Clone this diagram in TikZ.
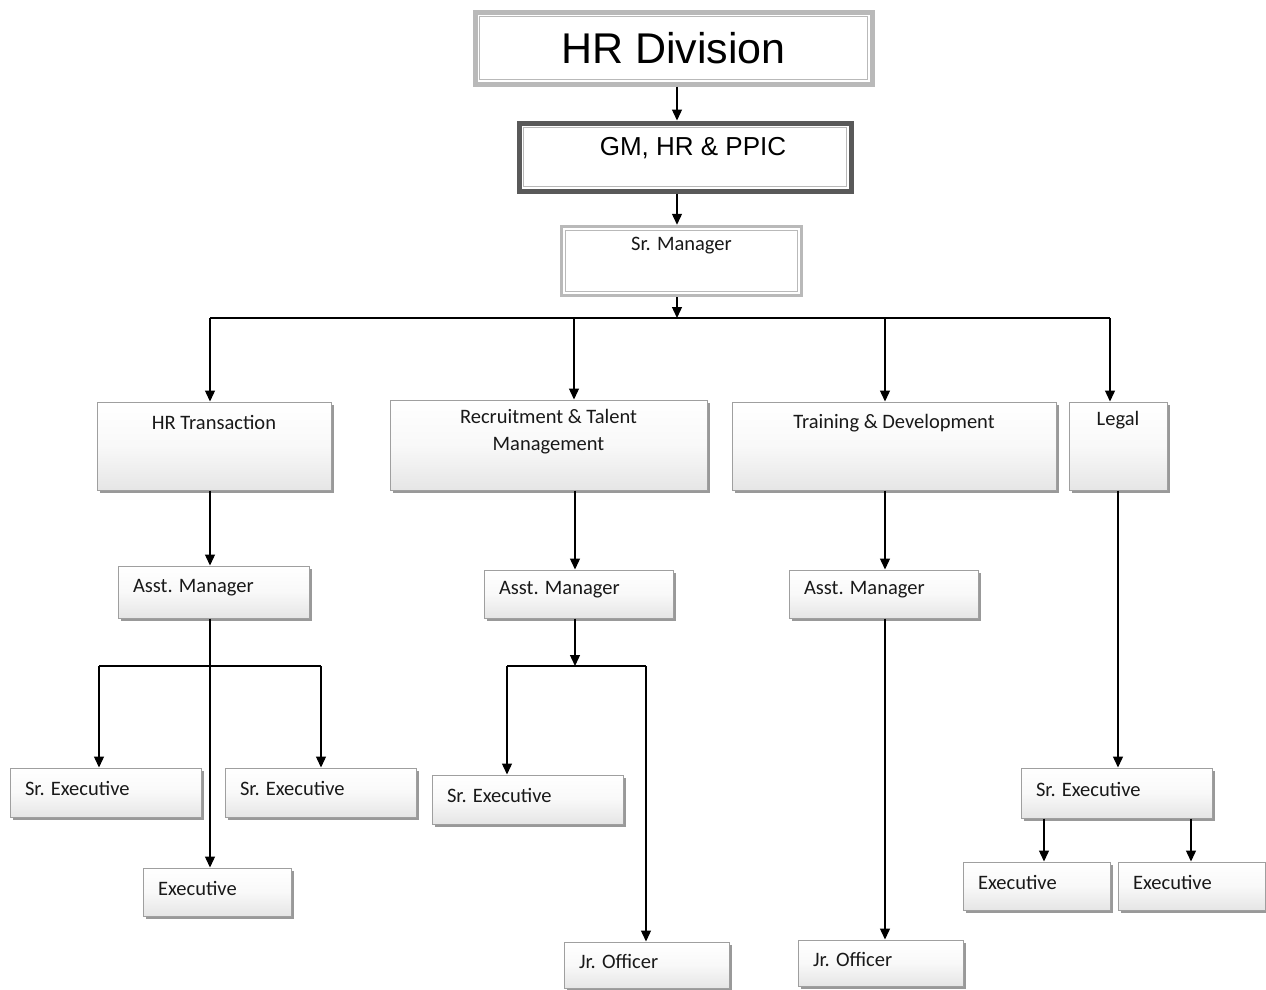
\documentclass[tikz,border=0pt]{standalone}
\usepackage{fontspec}
\newfontfamily\calfont{Carlito}
\newfontfamily\arifont{Liberation Sans}
\usetikzlibrary{arrows.meta,shadows,calc}
\begin{document}
\begin{tikzpicture}[x=1pt,y=-1pt,
  box/.style={draw=gray!75, line width=1pt, top color=white, bottom color=gray!20, middle color=gray!5,
    drop shadow={shadow xshift=2.5pt, shadow yshift=-2.5pt, fill=black!50, opacity=0.8},
    inner sep=0pt, font=\calfont\fontsize{20.5}{24}\selectfont, text=black!90},
  topbox/.style={draw=gray!60, fill=white, inner sep=0pt},
  arr/.style={-{Triangle[length=11pt,width=10pt]}, line width=1.3pt, black},
  ln/.style={line width=1.3pt, black},
  inframe/.style={draw=gray!55, line width=0.8pt}]
\useasboundingbox (0,0) rectangle (1266,989);

% top boxes
\node[topbox, draw=gray!55, line width=5pt, minimum width=397pt, minimum height=72pt,
  font=\arifont\fontsize{43}{48}\selectfont] (hr) at (673.5,48) {HR Division};
\draw[inframe] ([shift={(7,7)}]hr.north west) rectangle ([shift={(-7,-7)}]hr.south east);

\node[topbox, draw=black!65, line width=5pt, minimum width=332pt, minimum height=68pt] (gm) at (685,157) {};
\node[font=\arifont\fontsize{26}{30}\selectfont, anchor=center] at (693,148) {GM, HR \& PPIC};
\draw[inframe] ([shift={(7,7)}]gm.north west) rectangle ([shift={(-7,-7)}]gm.south east);

\node[topbox, draw=gray!55, line width=3.5pt, minimum width=240pt, minimum height=69pt,
  label={[anchor=north, yshift=-9pt, font=\calfont\fontsize{20.5}{24}\selectfont, text=black!90]north:Sr. Manager}] (srm) at (681.5,261) {};
\draw[inframe] ([shift={(6,6)}]srm.north west) rectangle ([shift={(-6,-6)}]srm.south east);

% level 3
\tikzset{lbl/.style={font=\calfont\fontsize{20.5}{24}\selectfont, text=black!90}}
\node[box, minimum width=234pt, minimum height=88pt,
  label={[lbl, anchor=north, yshift=-10pt]north:HR Transaction}] (hrt) at (214,446) {};
\node[box, minimum width=317pt, minimum height=90pt,
  label={[lbl, anchor=north, yshift=-6pt, align=center, font=\calfont\fontsize{20.5}{27}\selectfont]north:Recruitment \& Talent\\Management}] (rtm) at (548.5,445) {};
\node[box, minimum width=324pt, minimum height=88pt,
  label={[lbl, anchor=north, yshift=-9pt]north:Training \& Development}] (td) at (894,446) {};
\node[box, minimum width=98pt, minimum height=88pt,
  label={[lbl, anchor=north, yshift=-6pt]north:Legal}] (legal) at (1118,446) {};

% level 4
\tikzset{lt/.style={label={[lbl, anchor=west, xshift=12pt, yshift=4pt]west:#1}}}
\node[box, minimum width=191pt, minimum height=52pt, lt=Asst. Manager] (am1) at (213.5,592) {};
\node[box, minimum width=189pt, minimum height=48pt, lt=Asst. Manager] (am2) at (578.5,594) {};
\node[box, minimum width=189pt, minimum height=48pt, lt=Asst. Manager] (am3) at (883.5,594) {};
\node[box, minimum width=191pt, minimum height=50pt, lt=Sr. Executive] (lse) at (1116.5,793) {};

% level 5
\node[box, minimum width=191pt, minimum height=49pt, lt=Sr. Executive] (se1) at (105.5,792.5) {};
\node[box, minimum width=191pt, minimum height=49pt, lt=Sr. Executive] (se2) at (320.5,792.5) {};
\node[box, minimum width=148pt, minimum height=48pt, lt=Executive] (ex1) at (217,892) {};
\node[box, minimum width=191pt, minimum height=49pt, lt=Sr. Executive] (se3) at (527.5,799.5) {};
\node[box, minimum width=165pt, minimum height=46pt, lt=Jr. Officer] (jo1) at (646.5,965) {};
\node[box, minimum width=165pt, minimum height=46pt, lt=Jr. Officer] (jo2) at (880.5,963) {};
\node[box, minimum width=147pt, minimum height=48pt, lt=Executive] (ex2) at (1036.5,886) {};
\node[box, minimum width=147pt, minimum height=48pt, lt=Executive] (ex3) at (1191.5,886) {};

% connectors
\coordinate (b1) at (677,318);
\coordinate (bL) at (210,318);
\coordinate (cR) at (574,318);
\coordinate (cT) at (885,318);
\coordinate (bR) at (1110,318);
\draw[arr] (hr.south -| b1) -- (gm.north -| b1);
\draw[arr] (gm.south -| b1) -- (srm.north -| b1);
\draw[ln] (bL) -- (bR);
\draw[arr] (srm.south -| b1) -- (b1);
\draw[arr] (bL) -- (hrt.north -| bL);
\draw[arr] (cR) -- (rtm.north -| cR);
\draw[arr] (cT) -- (td.north -| cT);
\draw[arr] (bR) -- (legal.north -| bR);

% HR Transaction branch
\coordinate (h1) at (99,666);
\coordinate (h2) at (321,666);
\draw[arr] (hrt.south -| bL) -- (am1.north -| bL);
\draw[arr] (am1.south -| bL) -- (ex1.north -| bL);
\draw[ln] (h1) -- (h2);
\draw[arr] (h1) -- (se1.north -| h1);
\draw[arr] (h2) -- (se2.north -| h2);

% Recruitment branch
\coordinate (r0) at (575,666);
\coordinate (r1) at (507,666);
\coordinate (r2) at (646,666);
\draw[arr] (rtm.south -| r0) -- (am2.north -| r0);
\draw[arr] (am2.south -| r0) -- (r0);
\draw[ln] (r1) -- (r2);
\draw[arr] (r1) -- (se3.north -| r1);
\draw[arr] (r2) -- (jo1.north -| r2);

% Training branch
\draw[arr] (td.south -| cT) -- (am3.north -| cT);
\draw[arr] (am3.south -| cT) -- (jo2.north -| cT);

% Legal branch
\coordinate (l1) at (1044,0);
\coordinate (l2) at (1191,0);
\draw[arr] (legal.south) -- (lse.north -| legal.south);
\draw[arr] (lse.south -| l1) -- (ex2.north -| l1);
\draw[arr] (lse.south -| l2) -- (ex3.north -| l2);
\end{tikzpicture}
\end{document}
